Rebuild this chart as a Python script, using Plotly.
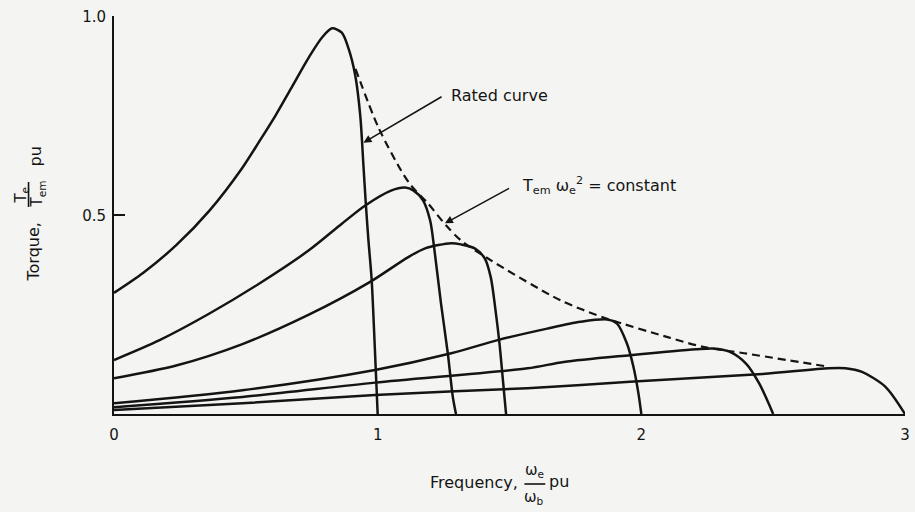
import plotly.graph_objects as go

# ---- data (x = omega_e/omega_b pu, y = Te/Tem pu) ----
c1_x = [0.0, 0.110, 0.236, 0.362, 0.487, 0.550, 0.613, 0.676, 0.739, 0.789, 0.827, 0.864, 0.890, 0.915, 0.934, 0.946, 0.955, 0.965, 0.977, 0.989, 1.0]
c1_y = [0.305, 0.355, 0.425, 0.512, 0.620, 0.685, 0.752, 0.825, 0.898, 0.948, 0.971, 0.960, 0.919, 0.852, 0.751, 0.626, 0.530, 0.437, 0.340, 0.170, 0.0]

c2_x = [0.0, 0.173, 0.362, 0.550, 0.739, 0.864, 0.953, 1.053, 1.104, 1.135, 1.172, 1.199, 1.214, 1.240, 1.266, 1.285, 1.297]
c2_y = [0.136, 0.186, 0.253, 0.328, 0.412, 0.479, 0.525, 0.563, 0.570, 0.563, 0.538, 0.487, 0.420, 0.279, 0.153, 0.043, 0.0]

c3_x = [0.0, 0.236, 0.487, 0.739, 0.965, 1.116, 1.180, 1.278, 1.316, 1.368, 1.406, 1.429, 1.447, 1.462, 1.474, 1.487]
c3_y = [0.090, 0.122, 0.176, 0.250, 0.330, 0.395, 0.417, 0.430, 0.427, 0.417, 0.392, 0.344, 0.261, 0.178, 0.093, 0.0]

c4_x = [0.0, 0.487, 0.990, 1.279, 1.455, 1.643, 1.769, 1.870, 1.907, 1.945, 1.970, 1.989, 2.0]
c4_y = [0.027, 0.060, 0.111, 0.153, 0.186, 0.215, 0.232, 0.238, 0.228, 0.178, 0.119, 0.052, 0.0]

c5_x = [0.0, 0.487, 0.990, 1.568, 1.706, 1.957, 2.208, 2.272, 2.334, 2.397, 2.447, 2.5]
c5_y = [0.017, 0.043, 0.079, 0.115, 0.131, 0.148, 0.163, 0.165, 0.157, 0.127, 0.077, 0.0]

c6_x = [0.0, 0.487, 0.990, 1.568, 1.957, 2.460, 2.711, 2.774, 2.837, 2.925, 3.0]
c6_y = [0.010, 0.027, 0.048, 0.065, 0.081, 0.101, 0.115, 0.115, 0.106, 0.069, 0.0]

dash_x = [0.916, 1.003, 1.089, 1.127, 1.191, 1.259, 1.316, 1.417, 1.694, 1.870, 2.103, 2.234, 2.390, 2.711]
dash_y = [0.869, 0.721, 0.613, 0.575, 0.530, 0.475, 0.437, 0.392, 0.286, 0.240, 0.193, 0.169, 0.153, 0.119]

x_tick_vals = [0, 1, 2, 3]
x_tick_text = ["0", "1", "2", "3"]
y_tick_vals = [0.5, 1.0]
y_tick_text = ["0.5", "1.0"]

# ---- layout geometry (page body margin removed by post_script) ----
W, H = 915, 512
X0, X3 = 114, 910          # window px of x=0 and x=3
Y0, Y1 = 414, 16           # window px of y=0 and y=1
ML, MR, MT, MB = X0, W - X3, Y1, H - Y0
PW, PH = X3 - X0, Y0 - Y1
Y_TOP = 1.002
BG = "#f4f4f2"
INK = "#141414"
FONT = "DejaVu Sans"


def px(xp):
    return (xp - X0) / PW


def py(yp):
    return (Y0 - yp) / PH


fig = go.Figure()
for xs, ys in [(c1_x, c1_y), (c2_x, c2_y), (c3_x, c3_y), (c4_x, c4_y), (c5_x, c5_y), (c6_x, c6_y)]:
    fig.add_trace(go.Scatter(x=xs, y=ys, mode="lines",
                             line=dict(color=INK, width=2.5, shape="spline", smoothing=0.8),
                             hoverinfo="skip", showlegend=False, cliponaxis=False))
fig.add_trace(go.Scatter(x=dash_x, y=dash_y, mode="lines",
                         line=dict(color=INK, width=2.2, dash="8px,5px", shape="spline", smoothing=0.8),
                         hoverinfo="skip", showlegend=False))


def label(xw, yw, text, size, angle=0):
    return dict(x=px(xw), y=py(yw), xref="paper", yref="paper", text=text, textangle=angle,
                showarrow=False, xanchor="center", yanchor="middle",
                font=dict(family=FONT, size=size, color=INK))


annotations = [
    # pointer arrows
    dict(x=0.946, y=0.683, ax=1.248, ay=0.801, xref="x", yref="y", axref="x", ayref="y",
         text="", showarrow=True, arrowhead=2, arrowsize=1, arrowwidth=1.6, arrowcolor=INK, standoff=0),
    dict(x=1.255, y=0.480, ax=1.504, ay=0.570, xref="x", yref="y", axref="x", ayref="y",
         text="", showarrow=True, arrowhead=2, arrowsize=1, arrowwidth=1.6, arrowcolor=INK, standoff=0),
    dict(x=1.270, y=0.801, xref="x", yref="y", xanchor="left", yanchor="middle",
         text="Rated curve", showarrow=False, font=dict(family=FONT, size=16, color=INK)),
    dict(x=1.538, y=0.575, xref="x", yref="y", xanchor="left", yanchor="middle",
         text="T<sub>em</sub> ω<sub>e</sub><sup>2</sup> = constant", showarrow=False,
         font=dict(family=FONT, size=16, color=INK)),
    # y-axis title pieces (rotated)
    label(32, 252, "Torque,", 16, -90),
    label(20, 195, "T<sub>e</sub>", 15, -90),
    label(37, 194, "T<sub>em</sub>", 15, -90),
    label(34, 157, "pu", 16, -90),
    # x-axis title pieces
    label(476, 482, "Frequency,", 16),
    label(537, 470, "ω<sub>e</sub>", 15),
    label(537, 497, "ω<sub>b</sub>", 15),
    label(562, 481, "pu", 16),
]

shapes = [
    dict(type="line", xref="paper", yref="paper", x0=px(28), x1=px(28), y0=py(182), y1=py(207),
         line=dict(color=INK, width=1.6)),
    dict(type="line", xref="paper", yref="paper", x0=px(527), x1=px(548), y0=py(484), y1=py(484),
         line=dict(color=INK, width=1.6)),
]

fig.update_layout(
    width=W, height=H,
    margin=dict(l=ML, r=MR, t=MT, b=MB, pad=0),
    paper_bgcolor=BG, plot_bgcolor=BG,
    font=dict(family=FONT, size=15, color=INK),
    annotations=annotations, shapes=shapes,
    xaxis=dict(range=[0, 3], tickvals=x_tick_vals, ticktext=x_tick_text, showgrid=False,
               zeroline=False, showline=True, linecolor=INK, linewidth=2, ticks="",
               ticklabelstandoff=6, tickfont=dict(family=FONT, size=15, color=INK)),
    yaxis=dict(range=[0, Y_TOP], tickvals=y_tick_vals, ticktext=y_tick_text, showgrid=False,
               zeroline=False, showline=True, linecolor=INK, linewidth=2, ticks="inside",
               ticklen=11, tickwidth=2, tickcolor=INK, ticklabelstandoff=3,
               tickfont=dict(family=FONT, size=15, color=INK)),
)

fig.write_html("out.html",
               config={"displayModeBar": False},
               post_script="document.body.style.margin='0';document.body.style.overflow='hidden';")
